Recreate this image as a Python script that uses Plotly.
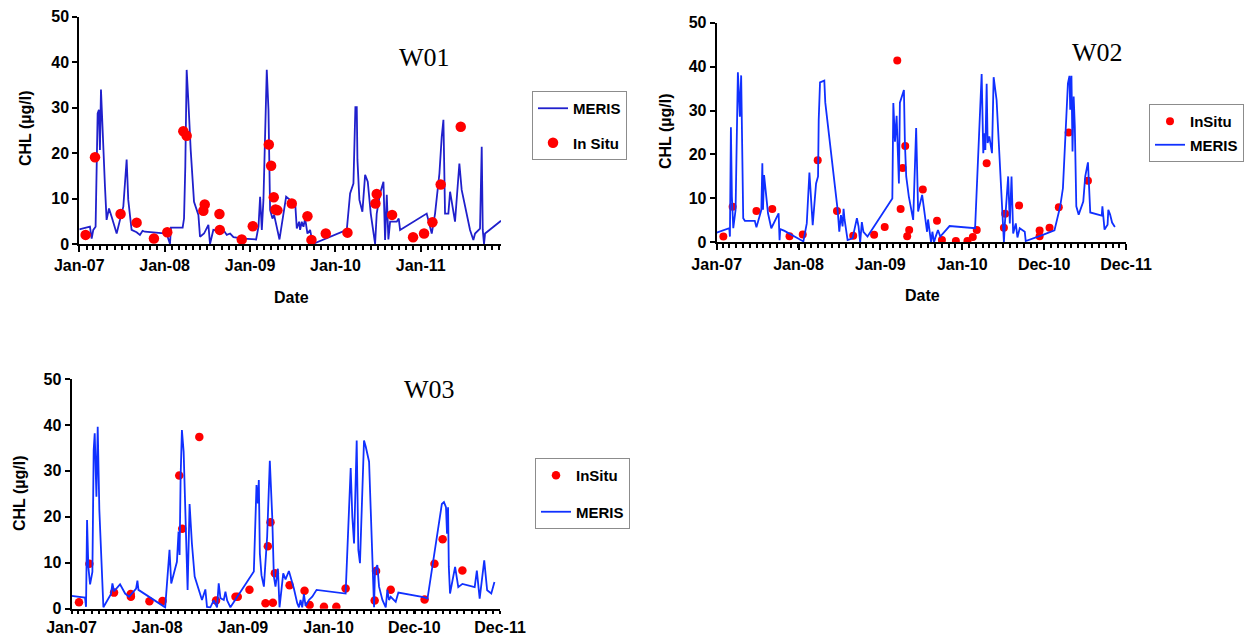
import plotly.graph_objects as go
import pandas as pd

# ---------------------------------------------------------------------------
# Chlorophyll-a (CHL, µg/l) at stations W01, W02, W03: MERIS retrievals vs
# in-situ samples.  Dates are stored as decimal years.
# ---------------------------------------------------------------------------

# ---- W01 -------------------------------------------------------------------
w01_meris_t = [
    2007.000, 2007.125, 2007.145, 2007.164, 2007.191, 2007.215, 2007.230, 2007.242, 2007.254, 2007.273,
    2007.301, 2007.320, 2007.348, 2007.379, 2007.438, 2007.477, 2007.516, 2007.555, 2007.574, 2007.613,
    2007.672, 2007.711, 2007.742, 2007.770, 2008.023, 2008.063, 2008.074, 2008.211, 2008.227, 2008.242,
    2008.258, 2008.277, 2008.305, 2008.344, 2008.395, 2008.414, 2008.461, 2008.512, 2008.531, 2008.570,
    2008.629, 2008.688, 2008.727, 2008.766, 2008.805, 2008.922, 2009.070, 2009.098, 2009.117, 2009.137,
    2009.156, 2009.195, 2009.215, 2009.234, 2009.262, 2009.281, 2009.344, 2009.422, 2009.469, 2009.527,
    2009.547, 2009.574, 2009.586, 2009.605, 2009.625, 2009.645, 2009.672, 2009.703, 2009.734, 2010.133,
    2010.172, 2010.211, 2010.234, 2010.250, 2010.258, 2010.281, 2010.316, 2010.348, 2010.379, 2010.414,
    2010.465, 2010.484, 2010.523, 2010.563, 2010.582, 2010.602, 2010.621, 2010.641, 2010.719, 2010.742,
    2010.758, 2011.070, 2011.129, 2011.168, 2011.219, 2011.246, 2011.266, 2011.285, 2011.324, 2011.344,
    2011.402, 2011.453, 2011.480, 2011.578, 2011.617, 2011.637, 2011.695, 2011.715, 2011.727, 2011.742,
    2011.754, 2011.941,
]
w01_meris_chl = [
    3.2, 3.8, 1.2, 3.1, 3.8, 28.7, 29.5, 20.7, 34.0, 24.3,
    12.6, 5.3, 7.8, 6.0, 2.3, 5.3, 8.2, 18.6, 9.7, 3.1,
    2.6, 2.0, 2.9, 2.7, 2.3, 0.0, 3.6, 3.6, 5.6, 17.0,
    38.3, 31.7, 20.7, 9.3, 6.4, 1.6, 2.3, 4.2, 0.0, 3.1,
    2.9, 3.1, 2.0, 2.3, 1.5, 1.2, 1.0, 3.8, 10.4, 3.1,
    9.7, 38.3, 29.5, 7.5, 5.6, 6.4, 1.0, 10.4, 9.7, 9.3,
    3.4, 4.9, 3.1, 4.9, 3.8, 5.6, 2.3, 3.1, 0.0, 3.1,
    11.1, 13.3, 30.1, 30.1, 18.5, 9.7, 7.1, 15.2, 13.7, 6.7,
    0.0, 6.7, 11.1, 13.7, 0.9, 10.8, 1.0, 4.9, 4.9, 5.6,
    3.1, 6.7, 2.3, 6.7, 15.5, 23.6, 27.3, 6.7, 6.7, 11.5,
    4.9, 17.7, 11.9, 3.1, 0.9, 2.3, 3.4, 21.4, 3.1, 0.0,
    2.3, 5.1,
]
w01_insitu_t = [
    2007.074, 2007.184, 2007.484, 2007.672, 2007.875, 2008.031, 2008.219, 2008.258, 2008.453, 2008.469,
    2008.641, 2008.645, 2008.902, 2009.031, 2009.219, 2009.246, 2009.277, 2009.297, 2009.320, 2009.488,
    2009.672, 2009.719, 2009.887, 2010.141, 2010.469, 2010.484, 2010.664, 2010.910, 2011.039, 2011.137,
    2011.234, 2011.469,
]
w01_insitu_chl = [
    2.0, 19.1, 6.6, 4.7, 1.2, 2.6, 24.8, 23.8, 7.3, 8.7,
    6.6, 3.1, 1.0, 3.9, 21.9, 17.2, 10.3, 7.6, 7.4, 8.9,
    6.1, 0.9, 2.3, 2.5, 8.9, 11.0, 6.4, 1.5, 2.3, 4.8,
    13.1, 25.8,
]

# ---- W02 -------------------------------------------------------------------
w02_meris_t = [
    2007.011, 2007.164, 2007.172, 2007.184, 2007.196, 2007.213, 2007.241, 2007.257, 2007.269, 2007.281,
    2007.293, 2007.309, 2007.334, 2007.354, 2007.475, 2007.495, 2007.523, 2007.555, 2007.567, 2007.575,
    2007.588, 2007.636, 2007.676, 2007.765, 2007.777, 2007.785, 2007.837, 2007.938, 2008.067, 2008.108,
    2008.140, 2008.180, 2008.221, 2008.245, 2008.253, 2008.269, 2008.321, 2008.333, 2008.483, 2008.503,
    2008.523, 2008.543, 2008.555, 2008.567, 2008.604, 2008.664, 2008.717, 2008.737, 2008.757, 2008.777,
    2008.796, 2008.846, 2009.148, 2009.160, 2009.180, 2009.200, 2009.228, 2009.240, 2009.289, 2009.301,
    2009.317, 2009.349, 2009.402, 2009.438, 2009.462, 2009.511, 2009.539, 2009.571, 2009.583, 2009.603,
    2009.620, 2009.636, 2009.656, 2009.676, 2009.704, 2009.732, 2009.845, 2010.156, 2010.236, 2010.256,
    2010.269, 2010.281, 2010.297, 2010.309, 2010.329, 2010.362, 2010.382, 2010.418, 2010.507, 2010.519,
    2010.539, 2010.559, 2010.579, 2010.600, 2010.620, 2010.652, 2010.672, 2010.700, 2010.761, 2010.773,
    2010.982, 2011.123, 2011.193, 2011.226, 2011.287, 2011.306, 2011.315, 2011.330, 2011.343, 2011.357,
    2011.371, 2011.389, 2011.418, 2011.474, 2011.498, 2011.531, 2011.559, 2011.699, 2011.707, 2011.733,
    2011.770, 2011.779, 2011.801, 2011.825, 2011.859,
]
w02_meris_chl = [
    2.2, 3.2, 1.3, 26.2, 10.4, 3.2, 7.4, 30.1, 38.7, 33.9,
    28.6, 38.0, 5.5, 4.9, 4.9, 3.4, 5.5, 7.4, 18.0, 7.4,
    15.3, 6.6, 3.2, 6.6, 0.5, 3.0, 2.6, 1.6, 0.2, 4.3,
    15.9, 3.9, 13.4, 15.0, 27.9, 36.4, 36.8, 31.8, 7.4, 2.4,
    6.2, 3.6, 7.6, 5.2, 0.5, 0.9, 5.5, 3.6, 0.0, 4.6,
    2.4, 1.3, 10.0, 31.7, 22.9, 28.8, 13.4, 31.8, 34.7, 22.6,
    15.0, 10.4, 5.1, 26.0, 7.0, 10.8, 6.6, 2.4, 5.2, 2.0,
    0.0, 2.4, 0.0, 1.3, 2.8, 1.3, 3.7, 3.2, 38.3, 20.3,
    24.8, 21.0, 36.1, 22.6, 24.1, 20.3, 37.6, 32.4, 0.0, 4.3,
    10.4, 15.0, 4.3, 15.0, 2.0, 4.3, 1.1, 3.2, 2.4, 0.3,
    1.7, 2.7, 8.2, 12.3, 36.2, 37.9, 30.2, 37.9, 20.7, 33.2,
    26.4, 8.2, 6.3, 9.3, 15.0, 18.2, 6.8, 6.1, 8.2, 2.9,
    4.0, 7.4, 6.3, 4.5, 3.5,
]
w02_insitu_t = [
    2007.092, 2007.205, 2007.495, 2007.688, 2007.898, 2008.059, 2008.241, 2008.475, 2008.672, 2008.926,
    2009.055, 2009.208, 2009.249, 2009.273, 2009.305, 2009.329, 2009.353, 2009.519, 2009.692, 2009.752,
    2009.922, 2010.063, 2010.128, 2010.176, 2010.297, 2010.507, 2010.523, 2010.692, 2010.942, 2010.942,
    2011.063, 2011.176, 2011.296, 2011.531,
]
w02_insitu_chl = [
    1.3, 8.1, 7.1, 7.6, 1.4, 1.8, 18.7, 7.1, 1.5, 1.7,
    3.5, 41.4, 7.6, 16.9, 21.9, 1.4, 2.8, 12.0, 4.9, 0.5,
    0.3, 0.3, 1.2, 2.8, 18.0, 3.3, 6.5, 8.4, 1.4, 2.7,
    3.3, 8.0, 25.0, 14.0,
]

# ---- W03 -------------------------------------------------------------------
w03_meris_t = [
    2007.011, 2007.168, 2007.180, 2007.192, 2007.207, 2007.227, 2007.254, 2007.269, 2007.281, 2007.289,
    2007.301, 2007.316, 2007.335, 2007.382, 2007.471, 2007.487, 2007.506, 2007.576, 2007.635, 2007.681,
    2007.763, 2007.778, 2007.790, 2008.101, 2008.120, 2008.151, 2008.171, 2008.237, 2008.256, 2008.268,
    2008.280, 2008.295, 2008.315, 2008.334, 2008.361, 2008.384, 2008.411, 2008.443, 2008.528, 2008.567,
    2008.586, 2008.625, 2008.664, 2008.703, 2008.722, 2008.742, 2008.781, 2008.800, 2008.820, 2008.858,
    2009.130, 2009.161, 2009.177, 2009.188, 2009.200, 2009.219, 2009.247, 2009.285, 2009.316, 2009.344,
    2009.363, 2009.382, 2009.410, 2009.429, 2009.449, 2009.472, 2009.499, 2009.538, 2009.596, 2009.635,
    2009.655, 2009.674, 2009.693, 2009.713, 2009.732, 2009.771, 2009.810, 2009.829, 2009.860, 2010.198,
    2010.257, 2010.276, 2010.296, 2010.327, 2010.346, 2010.365, 2010.412, 2010.432, 2010.471, 2010.529,
    2010.540, 2010.567, 2010.587, 2010.626, 2010.665, 2010.684, 2010.703, 2010.723, 2010.742, 2010.781,
    2010.812, 2011.014, 2011.103, 2011.151, 2011.318, 2011.342, 2011.366, 2011.378, 2011.390, 2011.399,
    2011.413, 2011.472, 2011.509, 2011.557, 2011.629, 2011.700, 2011.725, 2011.758, 2011.811, 2011.845,
    2011.893, 2011.930,
]
w03_meris_chl = [
    2.8, 2.4, 0.4, 19.3, 9.1, 5.3, 8.0, 34.5, 38.2, 28.7,
    24.4, 39.6, 21.5, 0.3, 3.2, 5.5, 3.8, 5.3, 3.3, 2.6,
    4.4, 6.1, 4.1, 0.3, 5.5, 12.8, 5.5, 10.2, 16.8, 11.7,
    28.7, 38.9, 34.2, 22.9, 4.1, 22.8, 14.2, 7.0, 1.9, 4.2,
    0.4, 0.3, 1.8, 0.3, 5.5, 2.3, 1.9, 3.7, 1.8, 0.3,
    8.1, 26.9, 22.9, 28.0, 12.0, 7.3, 4.8, 15.7, 32.2, 20.0,
    7.0, 4.8, 8.7, 0.3, 4.1, 7.7, 6.4, 8.2, 4.4, 1.2,
    0.3, 1.9, 0.3, 3.2, 0.6, 1.9, 2.6, 3.3, 4.1, 3.3,
    30.6, 20.0, 14.2, 36.6, 12.8, 9.9, 36.6, 35.3, 32.0, 0.3,
    8.4, 9.5, 4.8, 1.9, 0.3, 4.1, 1.9, 2.6, 2.3, 1.5,
    3.5, 2.9, 2.5, 2.2, 22.8, 23.2, 22.1, 16.3, 22.1, 9.1,
    3.3, 9.1, 4.7, 5.4, 5.1, 4.7, 8.3, 2.2, 10.5, 4.0,
    3.3, 5.8,
]
w03_insitu_t = [
    2007.098, 2007.219, 2007.506, 2007.700, 2007.702, 2007.918, 2008.070, 2008.264, 2008.299, 2008.497,
    2008.691, 2008.917, 2008.943, 2009.079, 2009.266, 2009.293, 2009.324, 2009.351, 2009.375, 2009.546,
    2009.720, 2009.779, 2009.946, 2010.090, 2010.198, 2010.536, 2010.552, 2010.723, 2011.117, 2011.232,
    2011.327, 2011.557,
]
w03_insitu_chl = [
    1.4, 9.8, 3.5, 3.2, 2.6, 1.6, 1.7, 29.0, 17.4, 37.4,
    1.8, 2.6, 2.6, 4.1, 1.2, 13.6, 18.8, 1.3, 7.7, 5.1,
    3.9, 0.8, 0.4, 0.4, 4.4, 1.8, 8.2, 4.1, 2.0, 9.8,
    15.1, 8.3,
]


def year_to_date(values):
    """Convert decimal years to timestamps."""
    out = []
    for y in values:
        yr = int(y)
        start = pd.Timestamp(yr, 1, 1)
        end = pd.Timestamp(yr + 1, 1, 1)
        out.append(start + (end - start) * (y - yr))
    return out


W, H = 1244, 637
FONT = "Liberation Sans, Arial, sans-serif"
SERIF = "Liberation Serif, Times New Roman, serif"
RED = "#ff0000"
BLUE_DARK = "#2020cc"
BLUE = "#1030ff"
DAY_MS = 86400000


def px_x(p):
    return p / W


def px_y(p):
    return 1 - p / H


fig = go.Figure()

# W01 -- legend shows MERIS first
fig.add_trace(go.Scatter(
    x=year_to_date(w01_meris_t), y=w01_meris_chl, mode="lines", name="MERIS",
    line=dict(color=BLUE_DARK, width=1.8), xaxis="x", yaxis="y",
    legend="legend", legendgroup="w01a"))
fig.add_trace(go.Scatter(
    x=year_to_date(w01_insitu_t), y=w01_insitu_chl, mode="markers", name="In Situ",
    marker=dict(color=RED, size=10.5), xaxis="x", yaxis="y",
    legend="legend", legendgroup="w01b"))

# W02 -- legend shows InSitu first
fig.add_trace(go.Scatter(
    x=year_to_date(w02_insitu_t), y=w02_insitu_chl, mode="markers", name="InSitu",
    marker=dict(color=RED, size=8), xaxis="x2", yaxis="y2",
    legend="legend2", legendgroup="w02a"))
fig.add_trace(go.Scatter(
    x=year_to_date(w02_meris_t), y=w02_meris_chl, mode="lines", name="MERIS",
    line=dict(color=BLUE, width=1.8), xaxis="x2", yaxis="y2",
    legend="legend2", legendgroup="w02b"))

# W03
fig.add_trace(go.Scatter(
    x=year_to_date(w03_insitu_t), y=w03_insitu_chl, mode="markers", name="InSitu",
    marker=dict(color=RED, size=8.5), xaxis="x3", yaxis="y3",
    legend="legend3", legendgroup="w03a"))
fig.add_trace(go.Scatter(
    x=year_to_date(w03_meris_t), y=w03_meris_chl, mode="lines", name="MERIS",
    line=dict(color=BLUE, width=1.8), xaxis="x3", yaxis="y3",
    legend="legend3", legendgroup="w03b"))

tick_font = dict(family=FONT, size=16, color="black", weight="bold")


def y_axis(domain, anchor):
    return dict(
        domain=domain, anchor=anchor, range=[0, 50], dtick=10, tick0=0,
        showline=True, linecolor="black", linewidth=2,
        ticks="outside", ticklen=5, tickwidth=2, tickcolor="black",
        showgrid=False, zeroline=False, tickfont=tick_font, automargin=False,
    )


def x_axis(domain, anchor, rng, tick0, dtick, ticklen=6):
    return dict(
        domain=domain, anchor=anchor, type="date", range=rng,
        tick0=tick0, dtick=dtick, tickformat="%b-%y",
        showline=True, linecolor="black", linewidth=2,
        ticks="outside", ticklen=ticklen, tickwidth=2, tickcolor="black",
        minor=dict(ticks="outside", ticklen=min(4, ticklen), tickwidth=1.5,
                   tickcolor="black", dtick="M1"),
        showgrid=False, zeroline=False, tickfont=tick_font, automargin=False,
    )


legend_common = dict(
    bgcolor="white", bordercolor="#8c8c8c", borderwidth=1,
    font=dict(family=FONT, size=15, color="black", weight="bold"),
    traceorder="grouped", itemwidth=30, xref="paper", yref="paper",
)

fig.update_layout(
    width=W, height=H, autosize=False,
    margin=dict(l=0, r=0, t=0, b=0, autoexpand=False),
    paper_bgcolor="white", plot_bgcolor="white",
    showlegend=True,
    xaxis=x_axis([px_x(79.3), px_x(501)], "y",
                 ["2007-01-01", str(year_to_date([2011.941])[0])], "2007-01-01", "M12"),
    yaxis=y_axis([px_y(244), px_y(16.7)], "x"),
    xaxis2=x_axis([px_x(716.7), px_x(1126)], "y2",
                  ["2007-01-05", "2011-12-30"], "2007-01-05", 364 * DAY_MS),
    yaxis2=y_axis([px_y(242.3), px_y(22.7)], "x2"),
    xaxis3=x_axis([px_x(71.5), px_x(500)], "y3",
                  ["2007-01-05", "2011-12-30"], "2007-01-05", 364 * DAY_MS, ticklen=3),
    yaxis3=y_axis([px_y(608.7), px_y(379)], "x3"),
    legend=dict(legend_common, x=px_x(532), y=px_y(91), xanchor="left", yanchor="top",
                tracegroupgap=12),
    legend2=dict(legend_common, x=px_x(1149), y=px_y(104), xanchor="left", yanchor="top",
                 tracegroupgap=1),
    legend3=dict(legend_common, x=px_x(535), y=px_y(458), xanchor="left", yanchor="top",
                 tracegroupgap=14),
)

annotations = [
    # station labels
    dict(text="W01", x=px_x(424), y=px_y(57), font=dict(family=SERIF, size=26, color="black")),
    dict(text="W02", x=px_x(1097), y=px_y(53), font=dict(family=SERIF, size=26, color="black")),
    dict(text="W03", x=px_x(429), y=px_y(389), font=dict(family=SERIF, size=26, color="black")),
    # axis titles
    dict(text="CHL (µg/l)", x=px_x(26), y=px_y(128), textangle=-90,
         font=dict(family=FONT, size=16, color="black", weight="bold")),
    dict(text="CHL (µg/l)", x=px_x(665), y=px_y(131), textangle=-90,
         font=dict(family=FONT, size=16, color="black", weight="bold")),
    dict(text="CHL (µg/l)", x=px_x(19), y=px_y(493), textangle=-90,
         font=dict(family=FONT, size=16, color="black", weight="bold")),
    dict(text="Date", x=px_x(291), y=px_y(297),
         font=dict(family=FONT, size=16, color="black", weight="bold")),
    dict(text="Date", x=px_x(922), y=px_y(295),
         font=dict(family=FONT, size=16, color="black", weight="bold")),
]
for a in annotations:
    a.update(xref="paper", yref="paper", showarrow=False, xanchor="center", yanchor="middle")
fig.update_layout(annotations=annotations)

fig.write_html("out.html")
